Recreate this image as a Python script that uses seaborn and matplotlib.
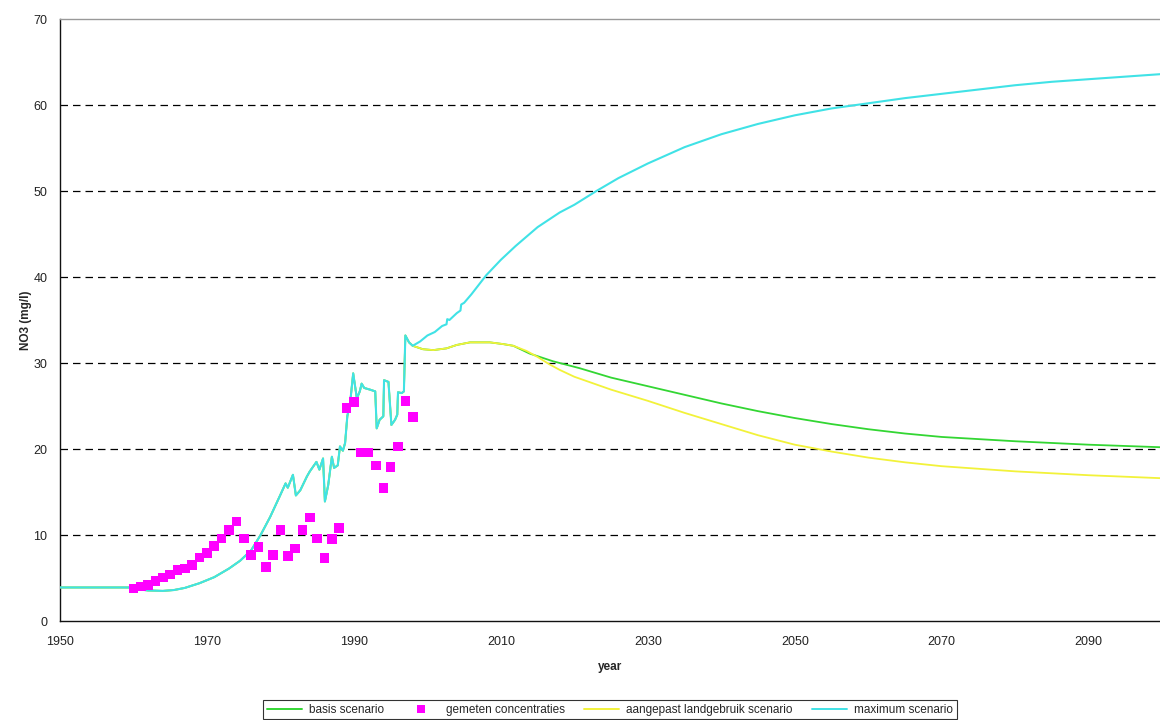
import matplotlib
matplotlib.use("Agg")
import matplotlib.pyplot as plt
from matplotlib.lines import Line2D
import seaborn as sns
import pandas as pd

# Simulated NO3 history shared by all scenarios (year, mg/l)
hist_year = [1950, 1959.5, 1960.5, 1962, 1964, 1965.5, 1967, 1969, 1971, 1973,
             1974.5, 1976, 1977.3, 1978.6, 1979.9, 1980.7, 1981.0, 1981.7, 1982.1,
             1982.7, 1983.6, 1984.0, 1984.9, 1985.3, 1985.8, 1986.05, 1986.5,
             1987.0, 1987.3, 1987.8, 1988.1, 1988.5, 1988.8, 1989.1, 1989.5,
             1989.9, 1990.4, 1990.8, 1991.05, 1991.4, 1992.2, 1992.9, 1993.1,
             1993.5, 1994.0, 1994.1, 1994.7, 1995.1, 1995.6, 1995.9, 1996.0,
             1996.5, 1996.8, 1997.0, 1997.5, 1998.0]
hist_no3 = [3.9, 3.9, 3.7, 3.55, 3.5, 3.6, 3.85, 4.4, 5.1, 6.1,
            7.0, 8.2, 10.0, 12.1, 14.5, 16.0, 15.5, 17.0, 14.6,
            15.2, 16.8, 17.4, 18.5, 17.6, 18.9, 13.9, 15.8,
            19.1, 17.8, 18.1, 20.3, 19.8, 20.7, 23.8, 25.5,
            28.8, 25.9, 26.7, 27.6, 27.1, 26.9, 26.7, 22.4,
            23.4, 23.8, 28.0, 27.8, 22.8, 23.4, 24.0, 26.6,
            26.5, 26.7, 33.2, 32.4, 32.0]

# Common plateau of basis and aangepast scenarios
plateau_year = [1999.4, 2000.8, 2002.6, 2004.0, 2005.8, 2008.5, 2010.3, 2011.7]
plateau_no3 = [31.6, 31.5, 31.7, 32.1, 32.4, 32.4, 32.2, 32.0]

# Basis scenario
basis_year = [2013.9, 2017.1, 2020.7, 2025, 2030, 2035, 2040, 2045, 2050,
              2055, 2060, 2065, 2070, 2080, 2090, 2100]
basis_no3 = [31.1, 30.2, 29.4, 28.3, 27.3, 26.3, 25.3, 24.4, 23.6,
             22.9, 22.3, 21.8, 21.4, 20.9, 20.5, 20.2]

# Aangepast landgebruik scenario
aangepast_year = [2013.5, 2015.0, 2016.5, 2018.0, 2020.0, 2025, 2030, 2035, 2040,
                  2045, 2050, 2055, 2060, 2065, 2070, 2080, 2090, 2100]
aangepast_no3 = [31.4, 30.7, 29.9, 29.2, 28.4, 26.9, 25.6, 24.2, 22.9,
                 21.6, 20.5, 19.7, 19.0, 18.45, 18.0, 17.4, 16.95, 16.6]

# Maximum scenario
maximum_year = [1999, 2000, 2001, 2002, 2002.6, 2002.7, 2003, 2004, 2004.5, 2004.6,
                2005, 2006, 2008, 2010, 2012, 2015, 2018, 2020, 2023, 2026,
                2030, 2035, 2040, 2045, 2050, 2055, 2060, 2065, 2070, 2075,
                2080, 2085, 2090, 2095, 2100]
maximum_no3 = [32.5, 33.2, 33.6, 34.3, 34.5, 35.1, 35.0, 35.8, 36.1, 36.8,
               37.0, 38.0, 40.2, 42.0, 43.6, 45.8, 47.5, 48.4, 50.0, 51.5,
               53.2, 55.1, 56.6, 57.8, 58.8, 59.6, 60.2, 60.8, 61.3, 61.8,
               62.3, 62.7, 63.0, 63.3, 63.6]

# Measured concentrations
meas_year = list(range(1960, 1999))
meas_no3 = [3.8, 4.0, 4.2, 4.65, 5.05, 5.4, 5.9, 6.1, 6.5, 7.4,
            7.9, 8.7, 9.6, 10.6, 11.55, 9.6, 7.7, 8.6, 6.3, 7.7,
            10.6, 7.55, 8.45, 10.6, 12.05, 9.6, 7.3, 9.5, 10.85, 24.8,
            25.45, 19.6, 19.6, 18.1, 15.5, 17.9, 20.3, 25.6, 23.7]

x_ticks = [1950, 1970, 1990, 2010, 2030, 2050, 2070, 2090]
y_ticks = [0, 10, 20, 30, 40, 50, 60, 70]

c_basis = "#33d633"
c_aangepast = "#f2f23a"
c_maximum = "#40e2e6"
c_meas = "#ff00ff"

basis = pd.DataFrame({"year": hist_year + plateau_year + basis_year,
                      "no3": hist_no3 + plateau_no3 + basis_no3})
aangepast = pd.DataFrame({"year": hist_year + plateau_year + aangepast_year,
                          "no3": hist_no3 + plateau_no3 + aangepast_no3})
maximum = pd.DataFrame({"year": hist_year + maximum_year,
                        "no3": hist_no3 + maximum_no3})
measured = pd.DataFrame({"year": meas_year, "no3": meas_no3})

sns.set_style("white")
plt.rcParams["font.family"] = ["Liberation Sans", "DejaVu Sans"]

fig = plt.figure(figsize=(11.6, 7.2), dpi=100)
ax = fig.add_axes([60 / 1160, 1 - 621 / 720, 1 - 60 / 1160, (621 - 19) / 720])

for y in y_ticks[1:-1]:
    ax.axhline(y, color="black", lw=0.9, ls=(0, (6, 4)), zorder=1)

sns.lineplot(data=basis, x="year", y="no3", color=c_basis, lw=1.3,
             estimator=None, sort=False, ax=ax, zorder=2)
sns.lineplot(data=aangepast, x="year", y="no3", color=c_aangepast, lw=1.3,
             estimator=None, sort=False, ax=ax, zorder=3)
sns.lineplot(data=maximum, x="year", y="no3", color=c_maximum, lw=1.5,
             estimator=None, sort=False, ax=ax, zorder=4)
sns.scatterplot(data=measured, x="year", y="no3", color=c_meas, marker="s",
                s=48, edgecolor="none", linewidth=0, ax=ax, zorder=5)

ax.set_xlim(1950, 2099.7)
ax.set_ylim(0, 70)
ax.set_xticks(x_ticks)
ax.set_yticks(y_ticks)
ax.tick_params(axis="both", labelsize=9, colors="#222222", length=5,
               width=0.9)
ax.tick_params(axis="x", direction="inout", pad=8)
ax.tick_params(axis="y", direction="out", pad=4)
ax.set_xlabel("year", fontsize=8.5, fontweight="bold", labelpad=10)
ax.set_ylabel("NO3 (mg/l)", fontsize=8.5, fontweight="bold", labelpad=1)

for side in ("left", "bottom"):
    ax.spines[side].set_color("#111111")
    ax.spines[side].set_linewidth(1.0)
ax.spines["top"].set_color("#999999")
ax.spines["top"].set_linewidth(1.0)
ax.spines["right"].set_visible(False)

handles = [
    Line2D([], [], color=c_basis, lw=1.4),
    Line2D([], [], color=c_meas, marker="s", ls="none", markersize=6,
           markeredgewidth=0),
    Line2D([], [], color=c_aangepast, lw=1.4),
    Line2D([], [], color=c_maximum, lw=1.4),
]
labels = ["basis scenario", "gemeten concentraties",
          "aangepast landgebruik scenario", "maximum scenario"]
leg = fig.legend(handles, labels, loc="lower center", ncol=4,
                 bbox_to_anchor=(610 / 1160, 0.001), fontsize=8.5,
                 frameon=True, fancybox=False, edgecolor="black",
                 handlelength=3.0, handletextpad=0.6, columnspacing=1.6,
                 borderpad=0.3, borderaxespad=0)
leg.get_frame().set_linewidth(0.8)

fig.savefig("out.png", dpi=100)
